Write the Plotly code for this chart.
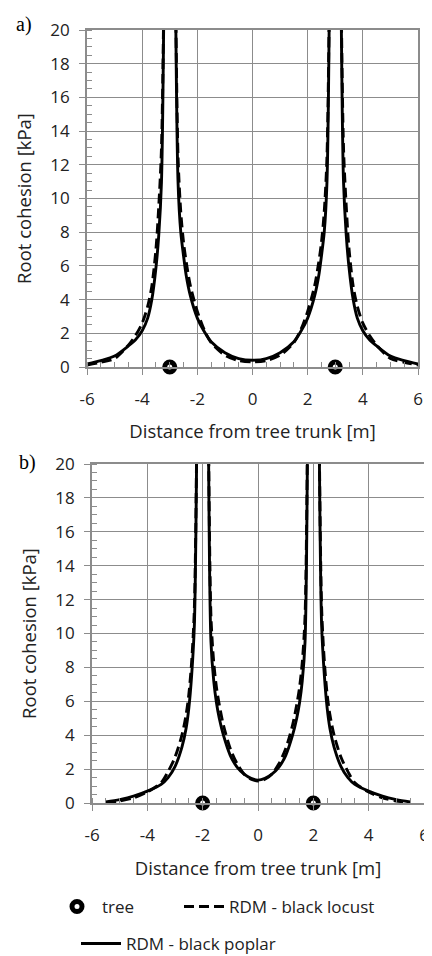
import plotly.graph_objects as go

# ---------------- data ----------------
# panel a) trees at -3 m and 3 m
XA = [-6, -5.5, -5, -4.5, -4.25, -4, -3.8, -3.65, -3.5, -3.4, -3.3, -3.2, None,
      -2.8, -2.7, -2.6, -2.5, -2.4, -2.25, -2, -1.75, -1.5, -1, -0.5, 0,
      0.5, 1, 1.5, 1.75, 2, 2.25, 2.4, 2.5, 2.6, 2.7, 2.8, None,
      3.2, 3.3, 3.4, 3.5, 3.65, 3.8, 4, 4.25, 4.5, 5, 5.5, 6]
POPLAR_A = [0.18, 0.38, 0.65, 1.25, 1.6, 2.15, 2.9, 4.0, 5.9, 7.8, 11, 24, None,
            24, 11, 8.0, 6.6, 5.4, 4.2, 2.9, 2.1, 1.5, 0.85, 0.5, 0.4,
            0.5, 0.85, 1.5, 2.1, 2.9, 4.2, 5.4, 6.6, 8.0, 11, 24, None,
            24, 11, 7.8, 5.9, 4.0, 2.9, 2.15, 1.6, 1.25, 0.65, 0.38, 0.18]
LOCUST_A = [0.12, 0.28, 0.5, 1.3, 1.85, 2.6, 3.6, 4.8, 7.0, 9.5, 13, 24, None,
            24, 12.5, 9.2, 7.4, 6.2, 4.8, 3.3, 2.2, 1.45, 0.7, 0.38, 0.3,
            0.38, 0.7, 1.45, 2.2, 3.3, 4.8, 6.2, 7.4, 9.2, 12.5, 24, None,
            24, 13, 9.5, 7.0, 4.8, 3.6, 2.6, 1.85, 1.3, 0.5, 0.28, 0.12]
TREES_A = [-3, 3]

# panel b) trees at -2 m and 2 m
XB = [-5.5, -5, -4.5, -4, -3.5, -3.25, -3, -2.75, -2.6, -2.5, -2.4, -2.3, -2.2, None,
      -1.8, -1.7, -1.6, -1.5, -1.4, -1.25, -1, -0.75, -0.5, -0.25, 0,
      0.25, 0.5, 0.75, 1, 1.25, 1.4, 1.5, 1.6, 1.7, 1.8, None,
      2.2, 2.3, 2.4, 2.5, 2.6, 2.75, 3, 3.25, 3.5, 4, 4.5, 5, 5.5]
POPLAR_B = [0.06, 0.2, 0.4, 0.7, 1.1, 1.5, 2.15, 3.3, 4.4, 5.6, 7.5, 10.5, 24, None,
            24, 9.5, 7.2, 5.9, 5.0, 4.0, 2.8, 2.1, 1.7, 1.45, 1.35,
            1.45, 1.7, 2.1, 2.8, 4.0, 5.0, 5.9, 7.2, 9.5, 24, None,
            24, 10.5, 7.5, 5.6, 4.4, 3.3, 2.15, 1.5, 1.1, 0.7, 0.4, 0.2, 0.06]
LOCUST_B = [0.02, 0.12, 0.3, 0.65, 1.2, 1.85, 2.7, 4.0, 5.2, 6.4, 8.3, 11.5, 24, None,
            24, 11, 8.3, 6.8, 5.8, 4.6, 3.2, 2.3, 1.7, 1.4, 1.3,
            1.4, 1.7, 2.3, 3.2, 4.6, 5.8, 6.8, 8.3, 11, 24, None,
            24, 11.5, 8.3, 6.4, 5.2, 4.0, 2.7, 1.85, 1.2, 0.65, 0.3, 0.12, 0.02]
TREES_B = [-2, 2]

X_TICKS = [-6, -4, -2, 0, 2, 4, 6]
X_TICKTEXT = ["-6", "-4", "-2", "0", "2", "4", "6"]

X_TITLE = "Distance from tree trunk [m]"
Y_TITLE = "Root cohesion [kPa]"

# ---------------- styling ----------------
# the page body has an 8 px margin, so the figure is drawn 8 px smaller and
# every screen position below is shifted by that offset
OFF = 8
W, H = 432 - OFF, 956 - OFF
FONT = "Open Sans"
TXT = "#222222"
GRID = "#8c8c8c"
LW = 2.9
DASH = "10px,5px"
TICK_SIZE = 17
TITLE_SIZE = 18.5


def dom_x(px0, px1):
    return [(px0 - OFF) / W, (px1 - OFF) / W]


def dom_y(py_top, py_bot):
    return [1 - (py_bot - OFF) / H, 1 - (py_top - OFF) / H]


def px(xs):
    return (xs - OFF) / W


def py(ys):
    return 1 - (ys - OFF) / H


fig = go.Figure()

# panel a
fig.add_trace(go.Scatter(x=XA, y=LOCUST_A, mode="lines", name="RDM - black locust",
                         line=dict(color="black", width=LW, dash=DASH, shape="spline", smoothing=0.8),
                         connectgaps=False, xaxis="x", yaxis="y", legend="legend2"))
fig.add_trace(go.Scatter(x=XA, y=POPLAR_A, mode="lines", name="RDM - black poplar",
                         line=dict(color="black", width=LW, shape="spline", smoothing=0.8),
                         connectgaps=False, xaxis="x", yaxis="y", legend="legend3"))
fig.add_trace(go.Scatter(x=TREES_A, y=[0, 0], mode="markers", name="tree",
                         marker=dict(symbol="circle", size=10, color="white",
                                     line=dict(color="black", width=5)),
                         cliponaxis=False, xaxis="x", yaxis="y", legend="legend"))

# panel b
fig.add_trace(go.Scatter(x=XB, y=LOCUST_B, mode="lines", name="RDM - black locust",
                         line=dict(color="black", width=LW, dash=DASH, shape="spline", smoothing=0.8),
                         connectgaps=False, xaxis="x2", yaxis="y2", showlegend=False))
fig.add_trace(go.Scatter(x=XB, y=POPLAR_B, mode="lines", name="RDM - black poplar",
                         line=dict(color="black", width=LW, shape="spline", smoothing=0.8),
                         connectgaps=False, xaxis="x2", yaxis="y2", showlegend=False))
fig.add_trace(go.Scatter(x=TREES_B, y=[0, 0], mode="markers", name="tree",
                         marker=dict(symbol="circle", size=10, color="white",
                                     line=dict(color="black", width=5)),
                         cliponaxis=False, xaxis="x2", yaxis="y2", showlegend=False))

xcommon = dict(range=[-6, 6], tickmode="array", tickvals=X_TICKS, ticktext=X_TICKTEXT,
               showgrid=True, gridcolor=GRID, gridwidth=1.3, zeroline=False,
               showline=True, linecolor=GRID, linewidth=1.6, mirror=True,
               ticks="outside", ticklen=6, tickcolor=GRID, tickwidth=1.3,
               minor=dict(tickmode="linear", tick0=0, dtick=0.5, ticks="inside", ticklen=5,
                          tickcolor=GRID, tickwidth=1.2, showgrid=False),
               tickfont=dict(family=FONT, size=TICK_SIZE, color=TXT),
               ticklabelstandoff=10, automargin=False, fixedrange=True)
ycommon = dict(range=[0, 20], tickmode="linear", tick0=0, dtick=2,
               showgrid=True, gridcolor=GRID, gridwidth=1.3, zeroline=False,
               showline=True, linecolor=GRID, linewidth=1.6, mirror=True,
               ticks="outside", ticklen=6, tickcolor=GRID, tickwidth=1.3,
               minor=dict(tickmode="linear", tick0=0, dtick=0.5, ticks="inside", ticklen=5,
                          tickcolor=GRID, tickwidth=1.2, showgrid=False),
               tickfont=dict(family=FONT, size=TICK_SIZE, color=TXT),
               ticklabelstandoff=6, automargin=False, fixedrange=True)

title_font = dict(family=FONT, size=TITLE_SIZE, color=TXT)
legend_common = dict(orientation="h", xanchor="left", yanchor="middle",
                     font=dict(family=FONT, size=17, color=TXT), itemwidth=40,
                     bgcolor="rgba(0,0,0,0)")

fig.update_layout(
    width=W, height=H,
    margin=dict(l=0, r=0, t=0, b=0, autoexpand=False),
    paper_bgcolor="white", plot_bgcolor="white",
    font=dict(family=FONT, size=16, color=TXT),
    xaxis=dict(xcommon, domain=dom_x(87, 418), anchor="y",
               title=dict(text=X_TITLE, font=title_font, standoff=16)),
    yaxis=dict(ycommon, domain=dom_y(30, 367), anchor="x",
               title=dict(text=Y_TITLE, font=title_font, standoff=14)),
    xaxis2=dict(xcommon, domain=dom_x(92, 424), anchor="y2",
                title=dict(text=X_TITLE, font=title_font, standoff=17)),
    yaxis2=dict(ycommon, domain=dom_y(464, 803), anchor="x2",
                title=dict(text=Y_TITLE, font=title_font, standoff=14)),
    legend=dict(legend_common, x=px(78 - 26), y=py(907)),
    legend2=dict(legend_common, x=px(205 - 26), y=py(907)),
    legend3=dict(legend_common, x=px(102 - 26), y=py(944)),
    annotations=[
        dict(text="a)", x=px(14), y=py(25), xref="paper", yref="paper",
             xanchor="left", yanchor="middle", showarrow=False,
             font=dict(family="Liberation Serif", size=20, color="black")),
        dict(text="b)", x=px(17), y=py(463), xref="paper", yref="paper",
             xanchor="left", yanchor="middle", showarrow=False,
             font=dict(family="Liberation Serif", size=20, color="black")),
    ],
)

fig.write_html("out.html")
